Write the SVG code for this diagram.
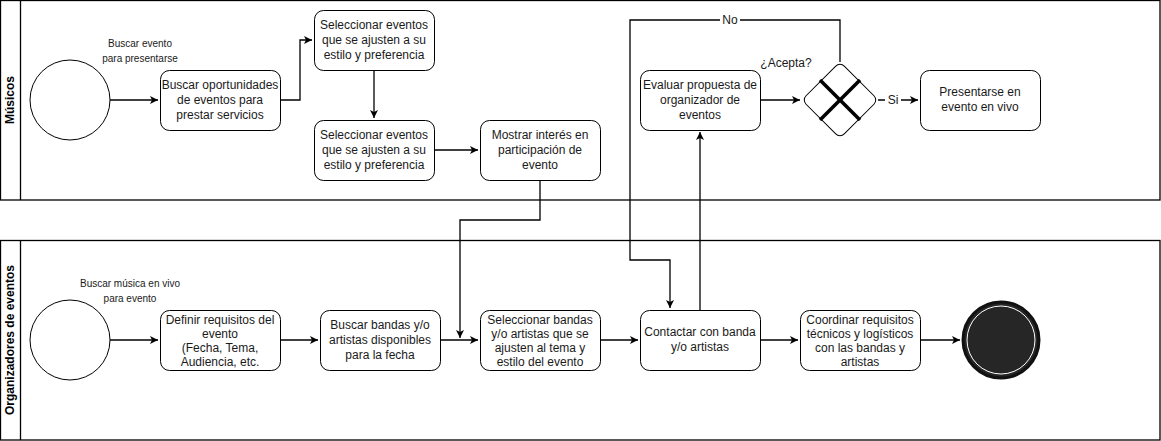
<svg xmlns="http://www.w3.org/2000/svg" width="1161" height="441" viewBox="0 0 1161 441">
<style>
.lane{fill:#fff;stroke:#000;stroke-width:1.3}
.task{fill:#fff;stroke:#000;stroke-width:1}
.t{font-family:"Liberation Sans",Arial,sans-serif;font-size:12px;fill:#1a1a1a;text-anchor:middle}
.s{font-family:"Liberation Sans",Arial,sans-serif;font-size:10px;fill:#1a1a1a;text-anchor:middle}
.h{font-family:"Liberation Sans",Arial,sans-serif;font-size:12px;font-weight:bold;fill:#000;text-anchor:middle}
.c{fill:none;stroke:#000;stroke-width:1.3}
.lbl{fill:#fff}
</style>
<defs>
<marker id="arr" markerWidth="10" markerHeight="10" refX="8" refY="5" orient="auto" markerUnits="userSpaceOnUse">
<path d="M0,1 L8,5 L0,9 L2,5 Z" fill="#000"/>
</marker>
</defs>
<rect width="1161" height="441" fill="#fff"/>
<g id="lane-musicos">
<rect class="lane" x="0.5" y="0.5" width="1159.5" height="199.5"/>
<line x1="20.5" y1="0.5" x2="20.5" y2="200" stroke="#000" stroke-width="1.3"/>
<text class="h" transform="translate(14,100) rotate(-90)">Músicos</text>
</g>
<g id="lane-organizadores">
<rect class="lane" x="0.5" y="240.5" width="1159.5" height="199.5"/>
<line x1="20.5" y1="240.5" x2="20.5" y2="440" stroke="#000" stroke-width="1.3"/>
<text class="h" transform="translate(14,340) rotate(-90)">Organizadores de eventos</text>
</g>
<g id="connectors">
<path class="c" d="M110,100 L158,100" marker-end="url(#arr)"/>
<path class="c" d="M280,100 L300,100 L300,40 L312,40" marker-end="url(#arr)"/>
<path class="c" d="M374,70 L374,118" marker-end="url(#arr)"/>
<path class="c" d="M434,150 L478,150" marker-end="url(#arr)"/>
<path class="c" d="M540,180 L540,220 L460,220 L460,338" marker-end="url(#arr)"/>
<path class="c" d="M760,100 L800,100" marker-end="url(#arr)"/>
<path class="c" d="M878,100 L918,100" marker-end="url(#arr)"/>
<rect class="lbl" x="885" y="93" width="16" height="14"/>
<text class="t" x="893" y="104">Si</text>
<path class="c" d="M840,62 L840,20 L630,20 L630,260 L670,260 L670,308" marker-end="url(#arr)"/>
<rect class="lbl" x="720" y="13" width="20" height="14"/>
<text class="t" x="730" y="24">No</text>
<path class="c" d="M700,310 L700,132" marker-end="url(#arr)"/>
<path class="c" d="M110,340 L158,340" marker-end="url(#arr)"/>
<path class="c" d="M280,340 L318,340" marker-end="url(#arr)"/>
<path class="c" d="M440,340 L478,340" marker-end="url(#arr)"/>
<path class="c" d="M600,340 L638,340" marker-end="url(#arr)"/>
<path class="c" d="M760,340 L798,340" marker-end="url(#arr)"/>
<path class="c" d="M920,340 L960,340" marker-end="url(#arr)"/>
</g>
<g id="start-musicos">
<circle cx="70" cy="100" r="40" fill="#fff" stroke="#000" stroke-width="1"/>
<text class="s" x="140" y="47">Buscar evento</text>
<text class="s" x="140" y="62">para presentarse</text>
</g>
<g id="task-buscar-oportunidades">
<rect class="task" x="160.5" y="70.5" width="120" height="60" rx="9"/>
<text class="t" x="220" y="89">Buscar oportunidades</text>
<text class="t" x="220" y="104">de eventos para</text>
<text class="t" x="220" y="119">prestar servicios</text>
</g>
<g id="task-seleccionar-1">
<rect class="task" x="314.5" y="10.5" width="120" height="60" rx="9"/>
<text class="t" x="374" y="29">Seleccionar eventos</text>
<text class="t" x="374" y="44">que se ajusten a su</text>
<text class="t" x="374" y="59">estilo y preferencia</text>
</g>
<g id="task-seleccionar-2">
<rect class="task" x="314.5" y="120.5" width="120" height="60" rx="9"/>
<text class="t" x="374" y="139">Seleccionar eventos</text>
<text class="t" x="374" y="154">que se ajusten a su</text>
<text class="t" x="374" y="169">estilo y preferencia</text>
</g>
<g id="task-mostrar-interes">
<rect class="task" x="480.5" y="120.5" width="120" height="60" rx="9"/>
<text class="t" x="540" y="139">Mostrar interés en</text>
<text class="t" x="540" y="154">participación de</text>
<text class="t" x="540" y="169">evento</text>
</g>
<g id="task-evaluar">
<rect class="task" x="640.5" y="70.5" width="120" height="60" rx="9"/>
<text class="t" x="700" y="89">Evaluar propuesta de</text>
<text class="t" x="700" y="104">organizador de</text>
<text class="t" x="700" y="119">eventos</text>
</g>
<g id="gateway-acepta">
<rect x="813" y="73" width="54" height="54" rx="6" transform="rotate(45 840 100)" fill="#fff" stroke="#000" stroke-width="1"/>
<line x1="820" y1="80" x2="860" y2="120" stroke="#000" stroke-width="3.5"/>
<line x1="860" y1="80" x2="820" y2="120" stroke="#000" stroke-width="3.5"/>
<text class="t" x="786" y="67">¿Acepta?</text>
</g>
<g id="task-presentarse">
<rect class="task" x="920.5" y="70.5" width="120" height="60" rx="9"/>
<text class="t" x="980" y="96">Presentarse en</text>
<text class="t" x="980" y="111">evento en vivo</text>
</g>
<g id="start-organizadores">
<circle cx="70" cy="340" r="40" fill="#fff" stroke="#000" stroke-width="1"/>
<text class="s" x="130" y="287">Buscar música en vivo</text>
<text class="s" x="130" y="302">para evento</text>
</g>
<g id="task-definir">
<rect class="task" x="160.5" y="310.5" width="120" height="60" rx="9"/>
<text class="t" x="220" y="324">Definir requisitos del</text>
<text class="t" x="220" y="338">evento</text>
<text class="t" x="220" y="352">(Fecha, Tema,</text>
<text class="t" x="220" y="366">Audiencia, etc.</text>
</g>
<g id="task-buscar-bandas">
<rect class="task" x="320.5" y="310.5" width="120" height="60" rx="9"/>
<text class="t" x="380" y="329">Buscar bandas y/o</text>
<text class="t" x="380" y="344">artistas disponibles</text>
<text class="t" x="380" y="359">para la fecha</text>
</g>
<g id="task-seleccionar-bandas">
<rect class="task" x="480.5" y="310.5" width="120" height="60" rx="9"/>
<text class="t" x="540" y="324">Seleccionar bandas</text>
<text class="t" x="540" y="338">y/o artistas que se</text>
<text class="t" x="540" y="352">ajusten al tema y</text>
<text class="t" x="540" y="366">estilo del evento</text>
</g>
<g id="task-contactar">
<rect class="task" x="640.5" y="310.5" width="120" height="60" rx="9"/>
<text class="t" x="700" y="336">Contactar con banda</text>
<text class="t" x="700" y="351">y/o artistas</text>
</g>
<g id="task-coordinar">
<rect class="task" x="800.5" y="310.5" width="120" height="60" rx="9"/>
<text class="t" x="860" y="324">Coordinar requisitos</text>
<text class="t" x="860" y="338">técnicos y logísticos</text>
<text class="t" x="860" y="352">con las bandas y</text>
<text class="t" x="860" y="366">artistas</text>
</g>
<g id="end-event">
<circle cx="1001" cy="340" r="38" fill="#262626" stroke="#111" stroke-width="3"/>
<circle cx="1001" cy="340" r="34" fill="none" stroke="#fff" stroke-width="1"/>
</g>
</svg>
